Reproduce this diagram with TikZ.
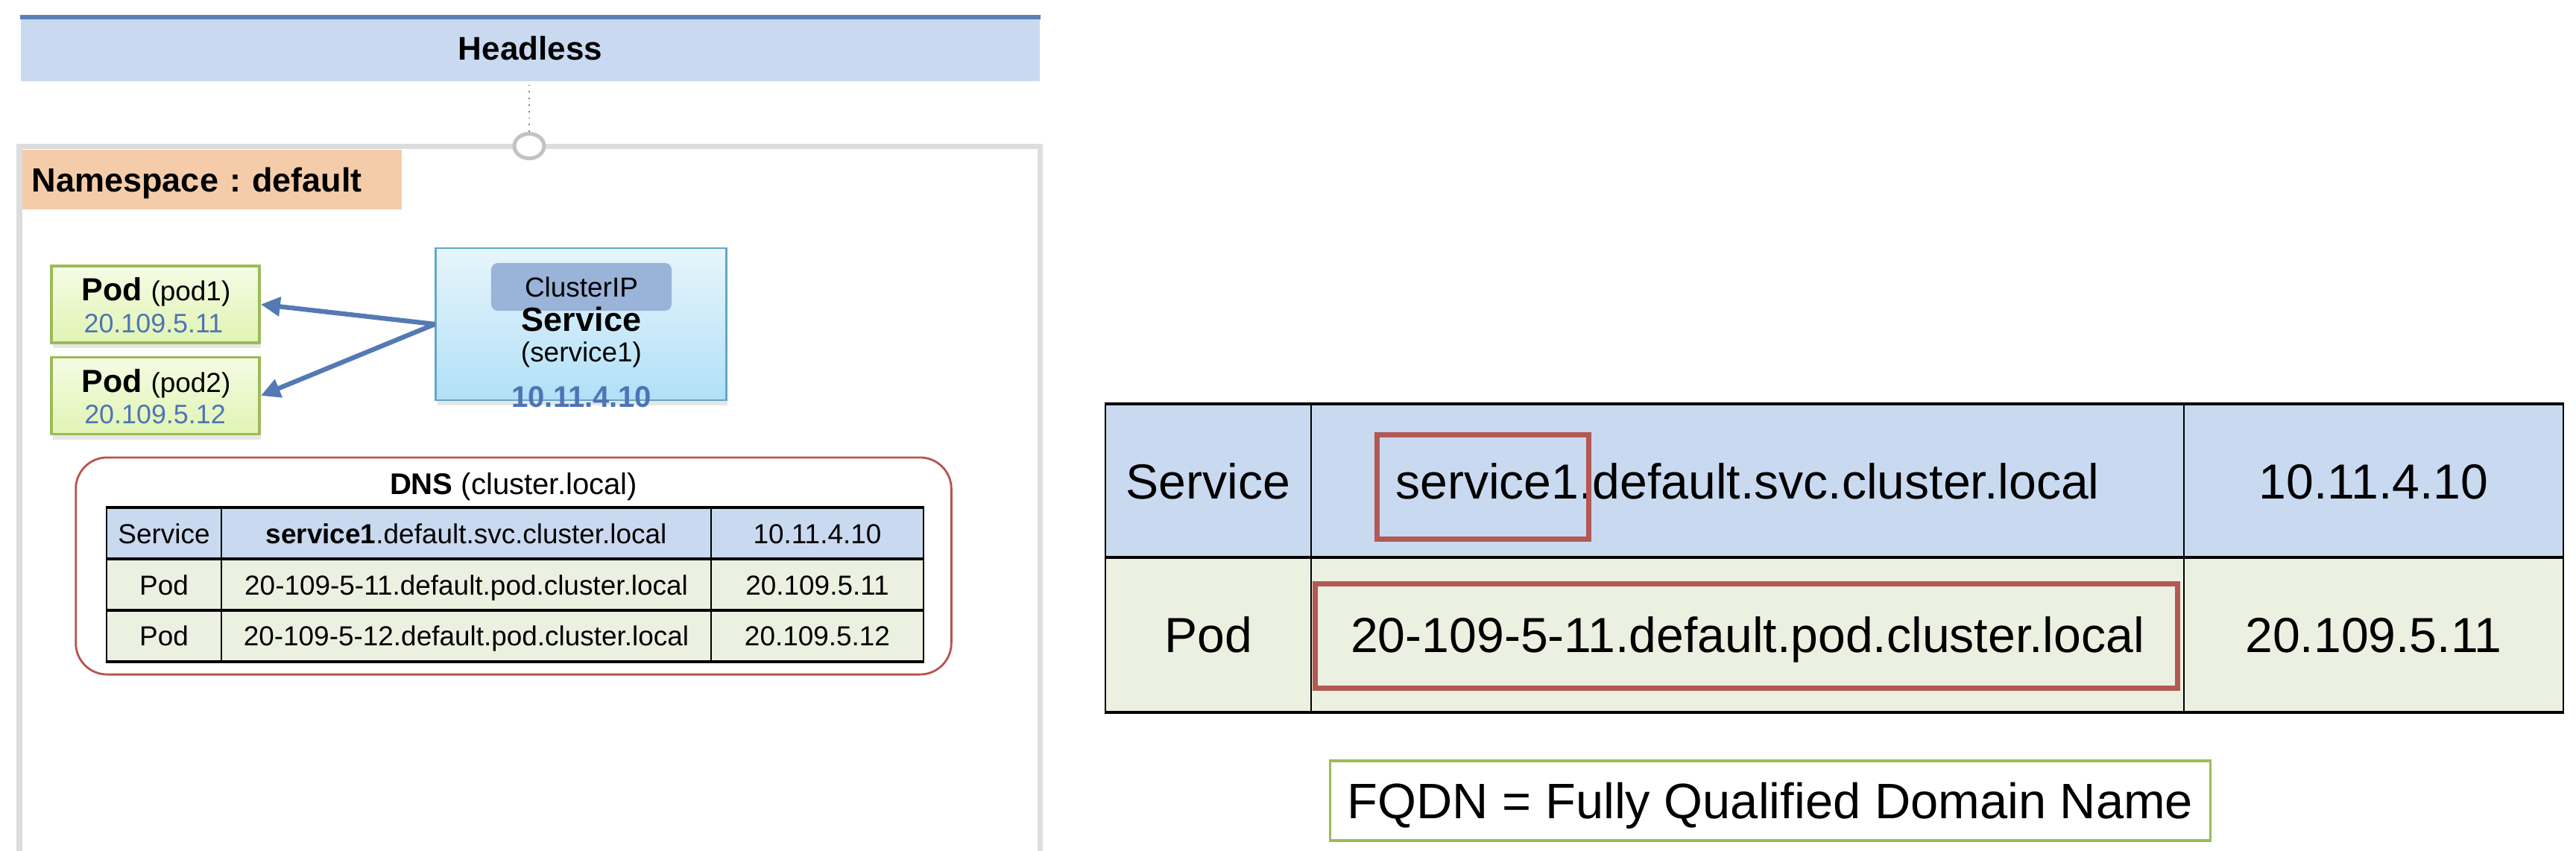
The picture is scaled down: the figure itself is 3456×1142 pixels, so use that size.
\documentclass[tikz,border=0pt]{standalone}
\usepackage{fontspec}
\setmainfont{Liberation Sans}
\usetikzlibrary{arrows.meta,shapes.geometric,shadows}
\definecolor{hdblue}{HTML}{C9D9F0}
\definecolor{hdline}{HTML}{5A80B8}
\definecolor{rowgreen}{HTML}{ECF0E0}
\definecolor{nsorange}{HTML}{F4CCAA}
\definecolor{ipblue}{HTML}{4E74B6}
\definecolor{hlred}{HTML}{B35853}
\definecolor{podgreen}{HTML}{9BBB59}
\definecolor{podtop}{HTML}{F4FCE4}
\definecolor{podbot}{HTML}{E1F4B3}
\definecolor{svctop}{HTML}{E7F5FC}
\definecolor{svcbot}{HTML}{B1E0F7}
\definecolor{arrowblue}{HTML}{5479B5}
\definecolor{framegray}{HTML}{DDDDDD}
\definecolor{portgray}{HTML}{C3C3C3}
\definecolor{svcborder}{HTML}{62A7C6}
\definecolor{cipfill}{HTML}{9AB3D8}
\definecolor{dnsred}{HTML}{B85450}
\begin{document}
\frenchspacing
\begin{tikzpicture}[x=0.01cm,y=-0.01cm,
  lbl/.style={anchor=base,inner sep=0pt},
  fA/.style={font=\fontsize{10.5}{12}\selectfont},
  fIP/.style={font=\fontsize{10.2}{12}\selectfont,text=ipblue},
  podbox/.style={draw=podgreen,line width=1pt,top color=podtop,bottom color=podbot,
    minimum width=2.79cm,minimum height=1.03cm,inner sep=0pt,
    drop shadow={opacity=0.2,shadow xshift=0.02cm,shadow yshift=-0.07cm}},
  cellA/.style={draw=black,line width=0.6pt,inner sep=0pt,font=\fontsize{10.5}{12}\selectfont,text height=7.52pt,text depth=0pt},
  cellB/.style={draw=black,line width=0.6pt,inner sep=0pt,font=\fontsize{18.8}{22}\selectfont,text height=13.46pt,text depth=0pt},
  hline/.style={line width=1.2pt,black},
  flow/.style={draw=arrowblue,line width=1.8pt,-{Triangle[length=0.26cm,width=0.25cm]}},
  hlbox/.style={draw=hlred,line width=2pt,inner sep=0pt}
]
\useasboundingbox (0,0) rectangle (3456,1142);
% namespace frame
\coordinate (fbl) at (26,1142);
\coordinate (ftl) at (26,196);
\coordinate (ftr) at (1395,196);
\coordinate (fbr) at (1395,1142);
\draw[framegray,line width=0.07cm] (fbl) -- (ftl) -- (ftr) -- (fbr);
% header bar
\node[fill=hdblue,minimum width=13.67cm,minimum height=0.88cm,inner sep=0pt,
  font=\fontsize{12.5}{14}\selectfont\bfseries,text height=8.95pt,text depth=0pt] (head) at (711.5,65) {Headless};
\draw[hdline,line width=0.06cm] ([yshift=-0.03cm]head.north west) -- ([yshift=-0.03cm]head.north east);
% port
\node[ellipse,draw=portgray,fill=white,line width=0.05cm,minimum width=0.40cm,minimum height=0.33cm,inner sep=0pt] (port) at (710,196) {};
\draw[gray,dotted,line width=0.5pt] (port.north) -- (port.north |- head.south);
% namespace label
\node[fill=nsorange,minimum height=0.80cm,inner xsep=0.13cm,text width=4.83cm,align=left,
  font=\fontsize{12.8}{14}\selectfont\bfseries,text height=9.16pt,text depth=0pt] (ns) at (284.5,241) {Namespace : default};
% pods
\node[podbox] (pod1) at (208.5,408.5) {};
\node[podbox] (pod2) at (208.5,531) {};
\node[lbl,font=\fontsize{12.2}{14}\selectfont\bfseries] (p1a) at (209.5,403) {Pod \fontsize{10.5}{12}\selectfont\mdseries(pod1)};
\node[lbl,fIP] (p1b) at (206,446) {20.109.5.11};
\node[lbl,font=\fontsize{12.2}{14}\selectfont\bfseries] (p2a) at (209.5,526) {Pod \fontsize{10.5}{12}\selectfont\mdseries(pod2)};
\node[lbl,fIP] (p2b) at (208,568) {20.109.5.12};
% service
\node[draw=svcborder,line width=0.8pt,top color=svctop,bottom color=svcbot,
  minimum width=3.89cm,minimum height=2.04cm,inner sep=0pt,
  drop shadow={opacity=0.2,shadow xshift=0.02cm,shadow yshift=-0.07cm}] (svc) at (779.5,435) {};
\node[fill=cipfill,rounded corners=0.09cm,minimum width=2.42cm,minimum height=0.64cm,inner sep=0pt] (cip) at (780,385) {};
\node[lbl,fA] (ciptext) at (780,398) {ClusterIP};
\node[lbl,font=\fontsize{12.8}{14}\selectfont\bfseries] (svcname) at (780,444) {Service};
\node[lbl,fA] (svcid) at (780,485) {(service1)};
\node[lbl,font=\fontsize{11.4}{13}\selectfont\bfseries,text=ipblue] (svcip) at (780,546) {10.11.4.10};
% arrows
\draw[flow] (svc.west) -- (pod1.east);
\draw[flow] (svc.west) -- (pod2.east);
% DNS box
\node[draw=dnsred,line width=0.8pt,rounded corners=0.42cm,minimum width=11.74cm,minimum height=2.91cm,inner sep=0pt] (dns) at (689,759.5) {};
\node[lbl,font=\fontsize{11.4}{13}\selectfont] (dnstitle) at (689,663) {\textbf{DNS} (cluster.local)};
% DNS table
\node[cellA,fill=hdblue,minimum width=1.54cm,minimum height=0.69cm] (d11) at (220,716.5) {Service};
\node[cellA,fill=hdblue,minimum width=6.57cm,minimum height=0.69cm] (d12) at (625.5,716.5) {\textbf{service1}.default.svc.cluster.local};
\node[cellA,fill=hdblue,minimum width=2.85cm,minimum height=0.69cm] (d13) at (1096.5,716.5) {10.11.4.10};
\node[cellA,fill=rowgreen,minimum width=1.54cm,minimum height=0.69cm] (d21) at (220,785.5) {Pod};
\node[cellA,fill=rowgreen,minimum width=6.57cm,minimum height=0.69cm] (d22) at (625.5,785.5) {20-109-5-11.default.pod.cluster.local};
\node[cellA,fill=rowgreen,minimum width=2.85cm,minimum height=0.69cm] (d23) at (1096.5,785.5) {20.109.5.11};
\node[cellA,fill=rowgreen,minimum width=1.54cm,minimum height=0.67cm] (d31) at (220,853.5) {Pod};
\node[cellA,fill=rowgreen,minimum width=6.57cm,minimum height=0.67cm] (d32) at (625.5,853.5) {20-109-5-12.default.pod.cluster.local};
\node[cellA,fill=rowgreen,minimum width=2.85cm,minimum height=0.67cm] (d33) at (1096.5,853.5) {20.109.5.12};
\draw[hline] (d11.north west) -- (d13.north east);
\draw[hline] (d21.north west) -- (d23.north east);
\draw[hline] (d31.north west) -- (d33.north east);
\draw[hline] (d31.south west) -- (d33.south east);
% right table
\node[cellB,fill=hdblue,minimum width=2.76cm,minimum height=2.06cm] (r11) at (1621,646) {Service};
\node[cellB,fill=hdblue,minimum width=11.71cm,minimum height=2.06cm] (r12) at (2344.5,646) {service1.default.svc.cluster.local};
\node[cellB,fill=hdblue,minimum width=5.09cm,minimum height=2.06cm] (r13) at (3184.5,646) {10.11.4.10};
\node[cellB,fill=rowgreen,minimum width=2.76cm,minimum height=2.06cm] (r21) at (1621,852) {Pod};
\node[cellB,fill=rowgreen,minimum width=11.71cm,minimum height=2.06cm] (r22) at (2344.5,852) {20-109-5-11.default.pod.cluster.local};
\node[cellB,fill=rowgreen,minimum width=5.09cm,minimum height=2.06cm] (r23) at (3184.5,852) {20.109.5.11};
\draw[hline] (r11.north west) -- (r13.north east);
\draw[hline] (r21.north west) -- (r23.north east);
\draw[hline] (r21.south west) -- (r23.south east);
\node[hlbox,minimum width=2.83cm,minimum height=1.39cm] (hl1) at (1989.5,653.5) {};
\node[hlbox,minimum width=11.56cm,minimum height=1.39cm] (hl2) at (2343,853.5) {};
% FQDN note
\node[draw=podgreen,line width=1pt,minimum width=11.80cm,minimum height=1.07cm,inner sep=0pt,
  font=\fontsize{19.0}{22}\selectfont,text height=13.6pt,text depth=0pt] (fqdn) at (2375,1074.5) {FQDN = Fully Qualified Domain Name};
\end{tikzpicture}
\end{document}
